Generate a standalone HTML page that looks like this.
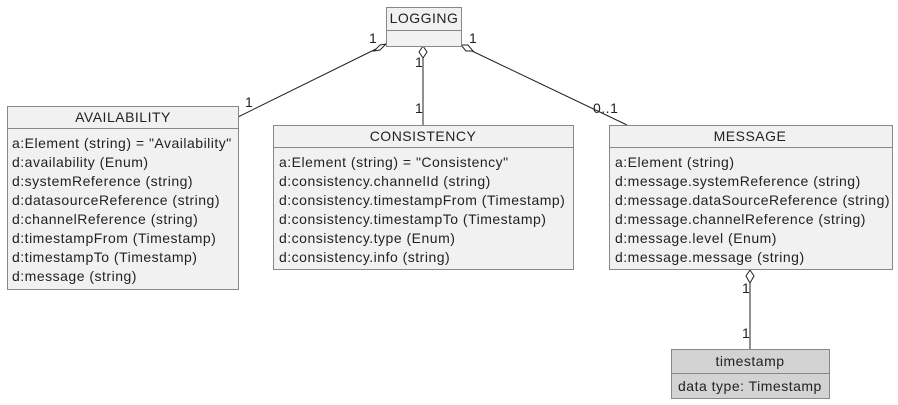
<!DOCTYPE html>
<html><head><meta charset="utf-8"><style>
html,body{margin:0;padding:0;background:#fff;}
svg{display:block;}
text{font-family:"Liberation Sans",sans-serif;font-size:14px;letter-spacing:0.5px;fill:#222;}
.b{fill:#f1f1f1;stroke:#888;stroke-width:1;}
.g{fill:#d3d3d3;stroke:#888;stroke-width:1;}
.l{stroke:#222;stroke-width:1;fill:none;}
.d{stroke:#222;stroke-width:1;fill:#fff;}
</style></head><body>
<svg width="898" height="405" viewBox="0 0 898 405">
<line class="l" x1="378" y1="48" x2="238" y2="117"/>
<polygon class="d" points="386,44 380,45 374,51 380,50"/>
<line class="l" x1="423" y1="58" x2="423" y2="125"/>
<polygon class="d" points="423,46 427,52 423,58 419,52"/>
<line class="l" x1="472" y1="51" x2="627" y2="125"/>
<polygon class="d" points="461,45 468,45 473,51 466,51"/>
<line class="l" x1="750" y1="283" x2="750" y2="349"/>
<polygon class="d" points="750,270 754,276 750,283 746,276"/>
<text x="369" y="43">1</text>
<text x="245" y="107">1</text>
<text x="415" y="67">1</text>
<text x="415" y="113">1</text>
<text x="469" y="43">1</text>
<text x="593" y="113">0..1</text>
<text x="742" y="293">1</text>
<text x="742" y="338">1</text>

<rect class="b" x="386.5" y="7.5" width="75" height="39"/>
<line class="l" style="stroke:#888" x1="386" y1="30.5" x2="461" y2="30.5"/>
<text x="424" y="23" text-anchor="middle">LOGGING</text>

<rect class="b" x="7.5" y="106.5" width="231" height="183"/>
<line class="l" style="stroke:#888" x1="7" y1="128.5" x2="238" y2="128.5"/>
<text x="123" y="122" text-anchor="middle">AVAILABILITY</text>
<text x="12" y="148">a:Element (string) = "Availability"</text>
<text x="12" y="167">d:availability (Enum)</text>
<text x="12" y="186">d:systemReference (string)</text>
<text x="12" y="205">d:datasourceReference (string)</text>
<text x="12" y="224">d:channelReference (string)</text>
<text x="12" y="243">d:timestampFrom (Timestamp)</text>
<text x="12" y="262">d:timestampTo (Timestamp)</text>
<text x="12" y="281">d:message (string)</text>

<rect class="b" x="273.5" y="125.5" width="300" height="144"/>
<line class="l" style="stroke:#888" x1="273" y1="147.5" x2="573" y2="147.5"/>
<text x="423" y="141" text-anchor="middle">CONSISTENCY</text>
<text x="279" y="167">a:Element (string) = "Consistency"</text>
<text x="279" y="186">d:consistency.channelId (string)</text>
<text x="279" y="205">d:consistency.timestampFrom (Timestamp)</text>
<text x="279" y="224">d:consistency.timestampTo (Timestamp)</text>
<text x="279" y="243">d:consistency.type (Enum)</text>
<text x="279" y="262">d:consistency.info (string)</text>

<rect class="b" x="609.5" y="125.5" width="283" height="144"/>
<line class="l" style="stroke:#888" x1="609" y1="147.5" x2="892" y2="147.5"/>
<text x="750" y="141" text-anchor="middle">MESSAGE</text>
<text x="615" y="167">a:Element (string)</text>
<text x="615" y="186">d:message.systemReference (string)</text>
<text x="615" y="205">d:message.dataSourceReference (string)</text>
<text x="615" y="224">d:message.channelReference (string)</text>
<text x="615" y="243">d:message.level (Enum)</text>
<text x="615" y="262">d:message.message (string)</text>

<rect class="g" x="671.5" y="349.5" width="158" height="49"/>
<line class="l" style="stroke:#888" x1="671" y1="373.5" x2="829" y2="373.5"/>
<text x="750" y="366" text-anchor="middle">timestamp</text>
<text x="678" y="391">data type: Timestamp</text>
</svg>
</body></html>
